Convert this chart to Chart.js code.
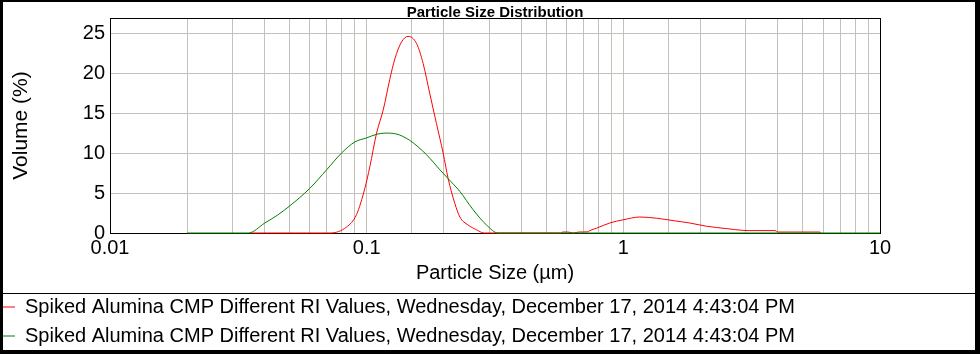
<!DOCTYPE html>
<html>
<head>
<meta charset="utf-8">
<script src="https://cdn.jsdelivr.net/npm/chart.js@4.4.1/dist/chart.umd.min.js"></script>
<style>
html, body { margin: 0; padding: 0; background: #ffffff; overflow: hidden; }
#wrap { width: 980px; height: 354px; position: relative; }
</style>
</head>
<body>
<div id="wrap"><canvas id="c" width="980" height="354"></canvas></div>
<script>
// ---- Chart text ----
const chartTitle = 'Particle Size Distribution';
const xAxisTitle = 'Particle Size (µm)';
const yAxisTitle = 'Volume (%)';
const seriesNames = [
  'Spiked Alumina CMP Different RI Values, Wednesday, December 17, 2014 4:43:04 PM',
  'Spiked Alumina CMP Different RI Values, Wednesday, December 17, 2014 4:43:04 PM'
];
const seriesColors = ['#ff0000', '#008000'];

// ---- Axis ticks ----
const xTickLabels = ['0.01', '0.1', '1', '10'];
const yTickValues = [0, 5, 10, 15, 20, 25];
const xRange = [0.01, 10];
const yRange = [0, 26.9];

// ---- Series 1 (red) ----
const redSizes = [0.035, 0.072, 0.0835, 0.0913, 0.0984, 0.1029, 0.1093, 0.116, 0.123, 0.1288,
  0.1367, 0.145, 0.1565, 0.166, 0.176, 0.187, 0.1986, 0.2077, 0.2206, 0.2307,
  0.2485, 0.268, 0.287, 0.57, 0.581, 0.608, 0.64, 0.67, 0.727, 0.74,
  0.786, 0.885, 0.998, 1.16, 1.346, 1.563, 1.815, 2.107, 2.52, 2.92,
  3.1, 3.9, 4.0, 5.82, 5.9];
const redVolumes = [0, 0, 0.75, 2.3, 5.6, 8.3, 12.5, 15.4, 19.2, 21.8,
  23.9, 24.6, 23.7, 21.2, 17.5, 13.7, 10.0, 6.8, 3.7, 2.0,
  1.0, 0.4, 0, 0, 0.12, 0.12, 0, 0.12, 0.15, 0.3,
  0.6, 1.25, 1.65, 2.0, 1.85, 1.55, 1.25, 0.85, 0.55, 0.33,
  0.3, 0.3, 0.12, 0.12, 0];

// ---- Series 2 (green) ----
const greenSizes = [0.02, 0.0346, 0.0401, 0.045, 0.0502, 0.0601, 0.0698, 0.0798, 0.09, 0.1,
  0.1093, 0.118, 0.13, 0.147, 0.171, 0.193, 0.2077, 0.2307, 0.26, 0.293,
  0.325, 10];
const greenVolumes = [0, 0, 1.25, 2.25, 3.4, 5.6, 7.9, 10.0, 11.4, 11.9,
  12.35, 12.5, 12.4, 11.6, 9.8, 7.9, 6.8, 5.2, 2.9, 1.0,
  0, 0];

const toPoints = (xs, ys) => xs.map((x, i) => ({ x: x, y: ys[i] }));

const FONT = '"Liberation Sans", Arial, sans-serif';

const framePlugin = {
  id: 'frame',
  beforeDatasetsDraw(chart) {
    const { ctx, chartArea: a } = chart;
    ctx.save();
    ctx.strokeStyle = '#000000';
    ctx.lineWidth = 1;
    ctx.strokeRect(Math.round(a.left) + 0.5, Math.round(a.top) + 0.5,
      Math.round(a.right - a.left), Math.round(a.bottom - a.top));
    ctx.restore();
  },
  afterDraw(chart) {
    const { ctx, width, height, legend } = chart;
    ctx.save();
    ctx.fillStyle = '#000000';
    ctx.fillRect(0, 0, width, 2);
    ctx.fillRect(0, 0, 3, height);
    ctx.fillRect(width - 5, 0, 5, height);
    ctx.fillRect(0, height - 4, width, 4);
    ctx.fillRect(3, Math.round(legend.top) + 5, width - 8, 1);
    ctx.restore();
  }
};

new Chart(document.getElementById('c'), {
  type: 'line',
  data: {
    datasets: [
      {
        label: seriesNames[0],
        data: toPoints(redSizes, redVolumes),
        borderColor: seriesColors[0],
        backgroundColor: seriesColors[0],
        borderWidth: 1,
        pointRadius: 0,
        fill: false,
        cubicInterpolationMode: 'monotone',
        clip: false,
        order: 1
      },
      {
        label: seriesNames[1],
        data: toPoints(greenSizes, greenVolumes),
        borderColor: seriesColors[1],
        backgroundColor: seriesColors[1],
        borderWidth: 1,
        pointRadius: 0,
        fill: false,
        cubicInterpolationMode: 'monotone',
        clip: false,
        order: 0
      }
    ]
  },
  options: {
    responsive: false,
    animation: false,
    events: [],
    devicePixelRatio: 1,
    layout: { padding: { left: -6, right: 100, top: 0, bottom: -2 } },
    plugins: {
      tooltip: { enabled: false },
      title: {
        display: true,
        text: chartTitle,
        fullSize: false,
        color: '#000000',
        font: { family: FONT, size: 15, weight: 'bold', lineHeight: 1 },
        padding: { top: 5, bottom: -2 }
      },
      legend: {
        display: true,
        position: 'bottom',
        align: 'start',
        labels: {
          usePointStyle: true,
          pointStyle: 'line',
          pointStyleWidth: 12,
          color: '#000000',
          padding: 9,
          font: { family: FONT, size: 20 },
          sort: (a, b) => a.datasetIndex - b.datasetIndex
        }
      }
    },
    scales: {
      x: {
        type: 'logarithmic',
        min: xRange[0],
        max: xRange[1],
        border: { display: false },
        grid: { color: '#c4c1bb', lineWidth: 1, drawTicks: false },
        ticks: {
          autoSkip: false,
          maxRotation: 0,
          padding: 3,
          color: '#000000',
          font: { family: FONT, size: 20 },
          callback: (v) => {
            const lbl = xTickLabels.find(t => Math.abs(Number(t) - v) < 1e-9 * Math.max(1, v));
            return lbl !== undefined ? lbl : '';
          }
        },
        title: {
          display: true,
          text: xAxisTitle,
          color: '#000000',
          font: { family: FONT, size: 20 },
          padding: { top: 0, bottom: 3 }
        },
        afterFit: (s) => { s.height = 55; }
      },
      y: {
        type: 'linear',
        min: yRange[0],
        max: yRange[1],
        border: { display: false },
        grid: { color: '#c4c1bb', lineWidth: 1, drawTicks: false },
        afterBuildTicks: (s) => { s.ticks = yTickValues.map(v => ({ value: v })); },
        ticks: {
          padding: 5,
          color: '#000000',
          font: { family: FONT, size: 20 },
          includeBounds: false
        },
        title: {
          display: true,
          text: yAxisTitle,
          color: '#000000',
          font: { family: FONT, size: 21 },
          padding: { top: 15, bottom: 0 }
        },
        afterFit: (s) => { s.width = 116; }
      }
    }
  },
  plugins: [framePlugin]
});
</script>
</body>
</html>
